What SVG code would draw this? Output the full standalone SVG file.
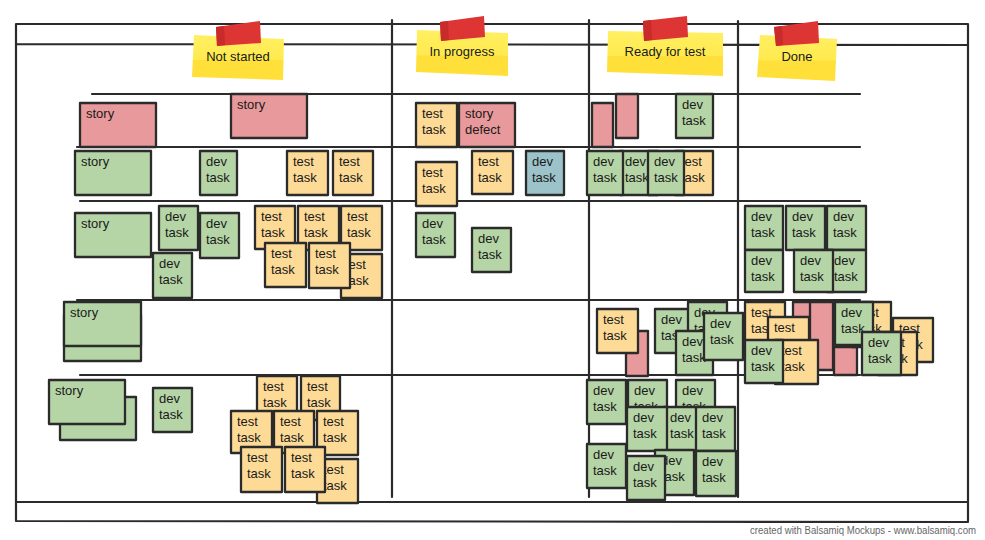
<svg xmlns="http://www.w3.org/2000/svg" width="985" height="540" viewBox="0 0 985 540">
<defs>
<style>
.ln{stroke:#2b2b2b;stroke-width:2.2;fill:none;stroke-linecap:round}
.c{stroke:#2b2b2b;stroke-width:2.3;stroke-linejoin:round}
.r{fill:#E8999B}
.g{fill:#B5D5A6}
.y{fill:#FDDB97}
.b{fill:#9CC3C9}
.t{font-family:"Liberation Sans",Arial,sans-serif;font-size:13px;fill:#1a1a1a}
.h{font-family:"Liberation Sans",Arial,sans-serif;font-size:13px;fill:#1a1a1a;text-anchor:middle}
.tape{fill:#DD3434}
.tape2{fill:#C92A2A}
.ft{font-family:"Liberation Sans",Arial,sans-serif;font-size:10px;fill:#666}
</style>
<linearGradient id="note" x1="0" y1="0" x2="0" y2="1">
<stop offset="0" stop-color="#FFEF62"/>
<stop offset="0.55" stop-color="#FFEA4E"/>
<stop offset="0.56" stop-color="#FFE03A"/>
<stop offset="1" stop-color="#FFDF38"/>
</linearGradient>
</defs>
<rect width="985" height="540" fill="#ffffff"/>

<g id="board">
<path class="ln" d="M16 24 L968 24 M16 44 L968 45 M16 24 L16 521 M968 24 L968 521 M16 502 L968 502 M16 521 L968 522"/>
<path class="ln" d="M392 20 L392 497 M589 20 L589 497 M738 21 L738 497"/>
<path class="ln" d="M92 94 L860 94 M77 147 L860 147 M80 201 L860 201 M77 300 L860 300 M80 375 L860 375"/>
</g>

<g id="hdr-not-started">
<polygon points="194,35 284,39 283,80 192,77" fill="url(#note)"/>
<polygon class="tape" points="216,27 260,21 261,43 217,46"/>
<polygon class="tape2" points="216,27 224,26 225,45 217,46"/>
<text class="h" x="238" y="61">Not started</text>
</g>
<g id="hdr-in-progress">
<polygon points="417,30 508,33 508,76 416,72" fill="url(#note)"/>
<polygon class="tape" points="440,22 484,16 485,37 441,41"/>
<polygon class="tape2" points="440,22 448,21 449,40 441,41"/>
<text class="h" x="462" y="56">In progress</text>
</g>
<g id="hdr-ready-for-test">
<polygon points="608,31 723,33 723,76 607,72" fill="url(#note)"/>
<polygon class="tape" points="643,21 687,16 688,37 644,41"/>
<polygon class="tape2" points="643,21 651,20 652,40 644,41"/>
<text class="h" x="665" y="56">Ready for test</text>
</g>
<g id="hdr-done">
<polygon points="760,35 837,39 835,81 757,77" fill="url(#note)"/>
<polygon class="tape" points="774,27 818,21 819,43 776,46"/>
<polygon class="tape2" points="774,27 782,26 783,45 776,46"/>
<text class="h" x="797" y="61">Done</text>
</g>

<!-- Row 1 -->
<g id="r1-ns-story1"><rect class="c r" x="80" y="103" width="76" height="44"/><text class="t" x="86" y="118">story</text></g>
<g id="r1-ns-story2"><rect class="c r" x="231" y="94" width="76" height="44"/><text class="t" x="237" y="109">story</text></g>
<g id="r1-ip-test"><rect class="c y" x="416" y="103" width="41" height="44"/><text class="t" x="422" y="118">test<tspan x="422" y="134">task</tspan></text></g>
<g id="r1-ip-defect"><rect class="c r" x="459" y="103" width="56" height="44"/><text class="t" x="465" y="118">story<tspan x="465" y="134">defect</tspan></text></g>
<g id="r1-rt-red1"><rect class="c r" x="592" y="103" width="21" height="44"/></g>
<g id="r1-rt-red2"><rect class="c r" x="616" y="94" width="22" height="44"/></g>
<g id="r1-rt-dev"><rect class="c g" x="676" y="94" width="37" height="44"/><text class="t" x="682" y="109">dev<tspan x="682" y="125">task</tspan></text></g>

<!-- Row 2 -->
<g id="r2-ns-story"><rect class="c g" x="75" y="151" width="76" height="44"/><text class="t" x="81" y="166">story</text></g>
<g id="r2-ns-dev"><rect class="c g" x="200" y="151" width="37" height="44"/><text class="t" x="206" y="166">dev<tspan x="206" y="182">task</tspan></text></g>
<g id="r2-ns-test1"><rect class="c y" x="287" y="151" width="41" height="44"/><text class="t" x="293" y="166">test<tspan x="293" y="182">task</tspan></text></g>
<g id="r2-ns-test2"><rect class="c y" x="333" y="151" width="40" height="44"/><text class="t" x="339" y="166">test<tspan x="339" y="182">task</tspan></text></g>
<g id="r2-ip-test1"><rect class="c y" x="416" y="162" width="41" height="44"/><text class="t" x="422" y="177">test<tspan x="422" y="193">task</tspan></text></g>
<g id="r2-ip-test2"><rect class="c y" x="472" y="151" width="41" height="43"/><text class="t" x="478" y="166">test<tspan x="478" y="182">task</tspan></text></g>
<g id="r2-ip-dev"><rect class="c b" x="526" y="151" width="38" height="44"/><text class="t" x="532" y="166">dev<tspan x="532" y="182">task</tspan></text></g>
<g id="r2-rt-dev2"><rect class="c g" x="620" y="151" width="38" height="44"/><text class="t" x="625" y="166">dev<tspan x="625" y="182">task</tspan></text></g>
<g id="r2-rt-dev1"><rect class="c g" x="587" y="151" width="36" height="44"/><text class="t" x="593" y="166">dev<tspan x="593" y="182">task</tspan></text></g>
<g id="r2-rt-test"><rect class="c y" x="675" y="151" width="38" height="44"/><text class="t" x="681" y="166">test<tspan x="681" y="182">task</tspan></text></g>
<g id="r2-rt-dev3"><rect class="c g" x="648" y="151" width="36" height="44"/><text class="t" x="654" y="166">dev<tspan x="654" y="182">task</tspan></text></g>

<!-- Row 3 -->
<g id="r3-ns-story"><rect class="c g" x="75" y="213" width="76" height="44"/><text class="t" x="81" y="228">story</text></g>
<g id="r3-ns-dev1"><rect class="c g" x="159" y="206" width="39" height="44"/><text class="t" x="165" y="221">dev<tspan x="165" y="237">task</tspan></text></g>
<g id="r3-ns-dev2"><rect class="c g" x="200" y="213" width="39" height="45"/><text class="t" x="206" y="228">dev<tspan x="206" y="244">task</tspan></text></g>
<g id="r3-ns-dev3"><rect class="c g" x="153" y="253" width="39" height="45"/><text class="t" x="159" y="268">dev<tspan x="159" y="284">task</tspan></text></g>
<g id="r3-ns-test1"><rect class="c y" x="255" y="206" width="40" height="43"/><text class="t" x="261" y="221">test<tspan x="261" y="237">task</tspan></text></g>
<g id="r3-ns-test2"><rect class="c y" x="298" y="206" width="41" height="44"/><text class="t" x="304" y="221">test<tspan x="304" y="237">task</tspan></text></g>
<g id="r3-ns-test3"><rect class="c y" x="341" y="206" width="41" height="44"/><text class="t" x="347" y="221">test<tspan x="347" y="237">task</tspan></text></g>
<g id="r3-ns-test6"><rect class="c y" x="341" y="254" width="41" height="44"/><text class="t" x="345" y="269">test<tspan x="345" y="285">task</tspan></text></g>
<g id="r3-ns-test4"><rect class="c y" x="265" y="243" width="41" height="44"/><text class="t" x="271" y="258">test<tspan x="271" y="274">task</tspan></text></g>
<g id="r3-ns-test5"><rect class="c y" x="309" y="243" width="41" height="45"/><text class="t" x="315" y="258">test<tspan x="315" y="274">task</tspan></text></g>
<g id="r3-ip-dev1"><rect class="c g" x="416" y="213" width="39" height="44"/><text class="t" x="422" y="228">dev<tspan x="422" y="244">task</tspan></text></g>
<g id="r3-ip-dev2"><rect class="c g" x="472" y="228" width="39" height="44"/><text class="t" x="478" y="243">dev<tspan x="478" y="259">task</tspan></text></g>
<g id="r3-dn-dev1"><rect class="c g" x="745" y="206" width="38" height="44"/><text class="t" x="751" y="221">dev<tspan x="751" y="237">task</tspan></text></g>
<g id="r3-dn-dev2"><rect class="c g" x="786" y="206" width="39" height="44"/><text class="t" x="792" y="221">dev<tspan x="792" y="237">task</tspan></text></g>
<g id="r3-dn-dev3"><rect class="c g" x="827" y="206" width="39" height="44"/><text class="t" x="833" y="221">dev<tspan x="833" y="237">task</tspan></text></g>
<g id="r3-dn-dev4"><rect class="c g" x="745" y="250" width="38" height="42"/><text class="t" x="751" y="265">dev<tspan x="751" y="281">task</tspan></text></g>
<g id="r3-dn-dev6"><rect class="c g" x="827" y="250" width="39" height="42"/><text class="t" x="834" y="265">dev<tspan x="834" y="281">task</tspan></text></g>
<g id="r3-dn-dev5"><rect class="c g" x="794" y="250" width="39" height="42"/><text class="t" x="800" y="265">dev<tspan x="800" y="281">task</tspan></text></g>

<!-- Row 4 -->
<g id="r4-ns-story-back"><rect class="c g" x="64" y="315" width="77" height="46"/></g>
<g id="r4-ns-story"><rect class="c g" x="64" y="302" width="77" height="44"/><text class="t" x="70" y="317">story</text></g>
<g id="r4-rt-red"><rect class="c r" x="626" y="331" width="22" height="45"/></g>
<g id="r4-rt-test"><rect class="c y" x="597" y="309" width="41" height="44"/><text class="t" x="603" y="324">test<tspan x="603" y="340">task</tspan></text></g>
<g id="r4-rt-dev1"><rect class="c g" x="655" y="309" width="38" height="44"/><text class="t" x="661" y="324">dev<tspan x="661" y="340">task</tspan></text></g>
<g id="r4-rt-dev2"><rect class="c g" x="688" y="302" width="39" height="43"/><text class="t" x="694" y="317">dev<tspan x="694" y="333">task</tspan></text></g>
<g id="r4-rt-dev3"><rect class="c g" x="676" y="331" width="37" height="44"/><text class="t" x="682" y="346">dev<tspan x="682" y="362">task</tspan></text></g>
<g id="r4-rt-dev4"><rect class="c g" x="704" y="313" width="39" height="47"/><text class="t" x="710" y="328">dev<tspan x="710" y="344">task</tspan></text></g>
<g id="r4-dn-red1"><rect class="c r" x="793" y="302" width="20" height="46"/></g>
<g id="r4-dn-red2"><rect class="c r" x="810" y="302" width="23" height="68"/></g>
<g id="r4-dn-red3"><rect class="c r" x="834" y="347" width="23" height="28"/></g>
<g id="r4-dn-test1"><rect class="c y" x="745" y="302" width="40" height="43"/><text class="t" x="751" y="317">test<tspan x="751" y="333">task</tspan></text></g>
<g id="r4-dn-test2"><rect class="c y" x="768" y="317" width="41" height="43"/><text class="t" x="774" y="332">test<tspan x="774" y="348">task</tspan></text></g>
<g id="r4-dn-test4"><rect class="c y" x="852" y="302" width="39" height="45"/><text class="t" x="858" y="317">test<tspan x="858" y="333">task</tspan></text></g>
<g id="r4-dn-dev2"><rect class="c g" x="835" y="302" width="38" height="43"/><text class="t" x="841" y="317">dev<tspan x="841" y="333">task</tspan></text></g>
<g id="r4-dn-test5"><rect class="c y" x="893" y="318" width="40" height="44"/><text class="t" x="899" y="333">test<tspan x="899" y="349">task</tspan></text></g>
<g id="r4-dn-test6"><rect class="c y" x="878" y="332" width="39" height="43"/><text class="t" x="884" y="347">test<tspan x="884" y="363">task</tspan></text></g>
<g id="r4-dn-dev3"><rect class="c g" x="862" y="332" width="39" height="43"/><text class="t" x="868" y="347">dev<tspan x="868" y="363">task</tspan></text></g>
<g id="r4-dn-test3"><rect class="c y" x="775" y="340" width="43" height="44"/><text class="t" x="781" y="355">test<tspan x="781" y="371">task</tspan></text></g>
<g id="r4-dn-dev1"><rect class="c g" x="745" y="340" width="38" height="43"/><text class="t" x="751" y="355">dev<tspan x="751" y="371">task</tspan></text></g>

<!-- Row 5 -->
<g id="r5-ns-story-back"><rect class="c g" x="60" y="397" width="76" height="43"/></g>
<g id="r5-ns-story"><rect class="c g" x="49" y="380" width="76" height="44"/><text class="t" x="55" y="395">story</text></g>
<g id="r5-ns-dev"><rect class="c g" x="153" y="388" width="39" height="44"/><text class="t" x="159" y="403">dev<tspan x="159" y="419">task</tspan></text></g>
<g id="r5-ns-test8"><rect class="c y" x="317" y="459" width="41" height="44"/><text class="t" x="323" y="474">test<tspan x="323" y="490">task</tspan></text></g>
<g id="r5-ns-test1"><rect class="c y" x="257" y="376" width="40" height="44"/><text class="t" x="263" y="391">test<tspan x="263" y="407">task</tspan></text></g>
<g id="r5-ns-test2"><rect class="c y" x="301" y="376" width="39" height="44"/><text class="t" x="307" y="391">test<tspan x="307" y="407">task</tspan></text></g>
<g id="r5-ns-test3"><rect class="c y" x="231" y="411" width="41" height="42"/><text class="t" x="237" y="426">test<tspan x="237" y="442">task</tspan></text></g>
<g id="r5-ns-test4"><rect class="c y" x="274" y="411" width="40" height="42"/><text class="t" x="280" y="426">test<tspan x="280" y="442">task</tspan></text></g>
<g id="r5-ns-test5"><rect class="c y" x="317" y="411" width="41" height="44"/><text class="t" x="323" y="426">test<tspan x="323" y="442">task</tspan></text></g>
<g id="r5-ns-test6"><rect class="c y" x="241" y="447" width="41" height="45"/><text class="t" x="247" y="462">test<tspan x="247" y="478">task</tspan></text></g>
<g id="r5-ns-test7"><rect class="c y" x="285" y="447" width="40" height="45"/><text class="t" x="291" y="462">test<tspan x="291" y="478">task</tspan></text></g>
<g id="r5-rt-dev2"><rect class="c g" x="628" y="380" width="39" height="44"/><text class="t" x="634" y="395">dev<tspan x="634" y="411">task</tspan></text></g>
<g id="r5-rt-dev3"><rect class="c g" x="676" y="380" width="39" height="44"/><text class="t" x="682" y="395">dev<tspan x="682" y="411">task</tspan></text></g>
<g id="r5-rt-dev1"><rect class="c g" x="587" y="380" width="39" height="44"/><text class="t" x="593" y="395">dev<tspan x="593" y="411">task</tspan></text></g>
<g id="r5-rt-dev5"><rect class="c g" x="664" y="407" width="37" height="44"/><text class="t" x="670" y="422">dev<tspan x="670" y="438">task</tspan></text></g>
<g id="r5-rt-dev4"><rect class="c g" x="627" y="407" width="40" height="44"/><text class="t" x="633" y="422">dev<tspan x="633" y="438">task</tspan></text></g>
<g id="r5-rt-dev6"><rect class="c g" x="696" y="407" width="39" height="44"/><text class="t" x="702" y="422">dev<tspan x="702" y="438">task</tspan></text></g>
<g id="r5-rt-dev7"><rect class="c g" x="587" y="444" width="39" height="44"/><text class="t" x="593" y="459">dev<tspan x="593" y="475">task</tspan></text></g>
<g id="r5-rt-dev8"><rect class="c g" x="655" y="450" width="39" height="45"/><text class="t" x="661" y="465">dev<tspan x="661" y="481">task</tspan></text></g>
<g id="r5-rt-dev9"><rect class="c g" x="627" y="456" width="38" height="44"/><text class="t" x="633" y="471">dev<tspan x="633" y="487">task</tspan></text></g>
<g id="r5-rt-dev10"><rect class="c g" x="696" y="451" width="40" height="45"/><text class="t" x="702" y="466">dev<tspan x="702" y="482">task</tspan></text></g>

<g id="connectors"></g>

<text class="ft" x="750" y="534" textLength="226" lengthAdjust="spacingAndGlyphs">created with Balsamiq Mockups - www.balsamiq.com</text>
</svg>
